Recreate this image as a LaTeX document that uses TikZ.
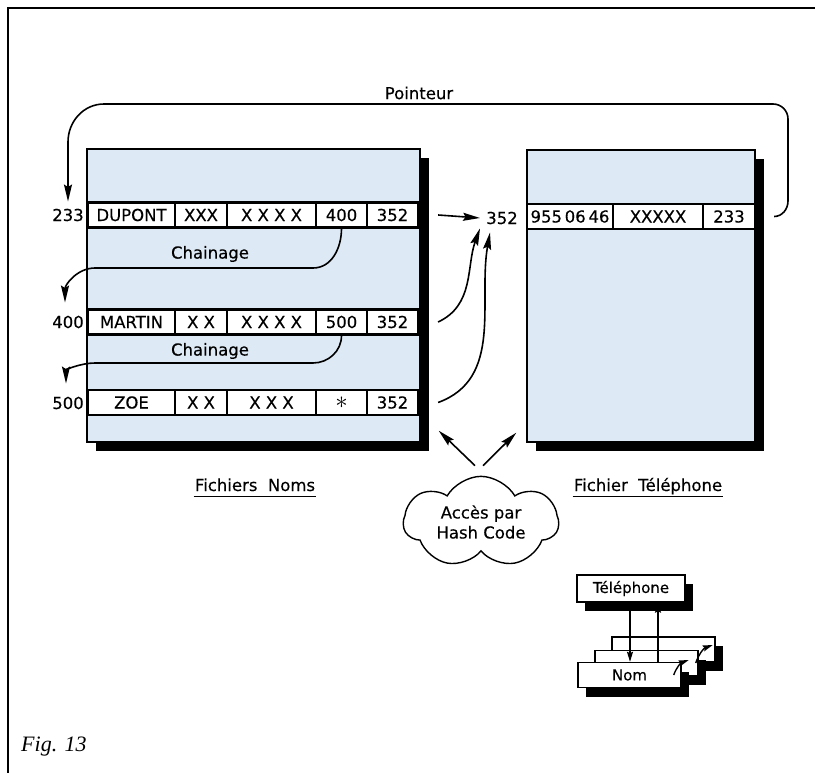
\documentclass[tikz,border=0pt]{standalone}
\usepackage{fontspec}
\setmainfont{DejaVu Sans}[FakeBold=0.3]
\newfontfamily\captionfont{Liberation Serif}
\usepackage{tikz}
\usetikzlibrary{arrows.meta,positioning,calc,shadows,shapes.symbols}

\definecolor{fileblue}{RGB}{221,233,244}

\begin{document}
\begin{tikzpicture}[
    x=1pt, y=1pt,
    font=\fontsize{16.5}{20}\selectfont,
    filebox/.style={draw,line width=1.4pt,fill=fileblue,inner sep=0pt,
                    drop shadow={shadow xshift=9pt,shadow yshift=-9pt,fill=black,opacity=1}},
    cell/.style={draw,line width=2.2pt,fill=white,inner sep=0pt,minimum height=25pt},
    addr/.style={inner sep=1pt},
    link/.style={-{Stealth[length=17pt,width=8pt,inset=2.5pt]},line width=1.6pt},
    caption/.style={anchor=base,inner sep=1pt,text depth=4pt},
    tinybox/.style={draw,line width=1.4pt,fill=white,inner sep=0pt,minimum height=25pt,
                    font=\fontsize{15}{18}\selectfont,
                    drop shadow={shadow xshift=8pt,shadow yshift=-9pt,fill=black,opacity=1}},
    tinylink/.style={-{Stealth[length=10pt,width=6pt,inset=1.5pt]},line width=1.4pt},
  ]
  \useasboundingbox (0,0) rectangle (815,-773);

  % --- frame ---
  \draw[line width=1.6pt] (8,-773) -- (8,-8) -- (815,-8);

  % --- the two files ---
  \node[filebox,minimum width=333pt,minimum height=293pt] (noms) at (253.5,-295.5) {};
  \node[filebox,minimum width=228pt,minimum height=292pt] (tel)  at (641,-296) {};

  % --- records of the names file ---
  \node[cell,minimum width=87pt] (dupont) at (131.5,-215) {DUPONT};
  \node[cell,minimum width=52pt] (d2)     at (201,-215)   {XXX};
  \node[cell,minimum width=89pt] (d3)     at (271.5,-215) {X X X X};
  \node[cell,minimum width=51pt] (d400)   at (341.5,-215) {400};
  \node[cell,minimum width=51pt] (d352)   at (392.5,-215) {352};

  \node[cell,minimum width=87pt] (martin) at (131.5,-322) {MARTIN};
  \node[cell,minimum width=52pt] (m2)     at (201,-322)   {X X};
  \node[cell,minimum width=89pt] (m3)     at (271.5,-322) {X X X X};
  \node[cell,minimum width=51pt] (m500)   at (341.5,-322) {500};
  \node[cell,minimum width=51pt] (m352)   at (392.5,-322) {352};

  \node[cell,minimum width=87pt] (zoe)    at (131.5,-402.5) {ZOE};
  \node[cell,minimum width=52pt] (z2)     at (201,-402.5)   {X X};
  \node[cell,minimum width=89pt] (z3)     at (271.5,-402.5) {X X X};
  \node[cell,minimum width=51pt] (zend)   at (341.5,-402.5) {\fontsize{26}{26}\selectfont$\ast$};
  \node[cell,minimum width=51pt] (z352)   at (392.5,-402.5) {352};

  % --- record of the telephone file ---
  \node[cell,minimum width=86pt] (p1)   at (570,-216.5) {955\,06\,46};
  \node[cell,minimum width=90pt] (p2)   at (658,-216.5) {XXXXX};
  \node[cell,minimum width=52pt] (p233) at (729,-216.5) {233};

  % --- addresses ---
  \node[addr] (a233) at (68,-215) {233};
  \node[addr] (a400) at (68,-322) {400};
  \node[addr] (a500) at (68,-403) {500};
  \node[addr] (h352) at (502,-218) {352};

  \node (ch1) at (210,-254) {Chainage};
  \node (ch2) at (210,-351) {Chainage};
  \node (ptr) at (419,-93)  {Pointeur};

  % --- pointer back to the names file ---
  \draw[link] ([xshift=18pt]p233.east) to[out=0,in=-90] (788,-201) -- (788,-119)
    to[out=90,in=0] (773,-104) -- (104,-104) to[out=180,in=90] (68,-142)
    -- ([yshift=6pt]a233.north);

  % --- chaining ---
  \draw[link] (d400.south) to[out=-90,in=0] (313,-268) -- (95,-268)
    to[out=180,in=90] ([yshift=12pt,xshift=-3pt]a400.north);
  \draw[link] (m500.south) to[out=-90,in=0] (313,-363) -- (95,-363)
    to[out=180,in=90] ([yshift=12pt,xshift=-2pt]a500.north);

  % --- links to the telephone record ---
  \draw[link] ([xshift=19pt]d352.east) -- ([xshift=-5pt]h352.west);
  \draw[link] ([xshift=19pt]m352.east) to[out=25,in=-110] ([xshift=-22pt,yshift=-3pt]h352.south);
  \draw[link] ([xshift=19pt]z352.east) to[out=20,in=-100] ([xshift=-12pt,yshift=-7pt]h352.south);

  % --- hash code access ---
  \node[cloud,draw,line width=1.4pt,cloud puffs=7,cloud puff arc=120,aspect=1.9,
        minimum width=155pt,minimum height=82pt,inner sep=0pt,align=center] (hash)
        at (481,-522) {Accès par\\Hash Code};
  \draw[link] ([xshift=-6pt,yshift=10pt]hash.north) -- ([xshift=18pt,yshift=12pt]noms.south east);
  \draw[link] ([xshift=2pt,yshift=10pt]hash.north) -- ([xshift=-10pt,yshift=10pt]tel.south west);

  % --- captions ---
  \node[caption] (fnoms) at (255,-491) {Fichiers\ \ Noms};
  \draw[line width=1.4pt] (fnoms.south west) -- (fnoms.south east);
  \node[caption] (ftel) at (648,-491) {Fichier\ \ Téléphone};
  \draw[line width=1.4pt] (ftel.south west) -- (ftel.south east);

  % --- small sketch ---
  \node[tinybox,minimum width=108pt,minimum height=27pt] (itel) at (631,-588.5) {Téléphone};
  \node[tinybox,minimum width=103pt] (inom3) at (663.5,-649.5) {};
  \node[tinybox,minimum width=103pt] (inom2) at (646.5,-663) {};
  \node[tinybox,minimum width=103pt] (inom)  at (629.5,-675) {Nom};
  \draw[tinylink] ([xshift=-1pt]itel.south) -- ([xshift=-1pt]itel.south |- inom.north);
  \draw[tinylink] ([xshift=28.5pt]inom.north) -- ([xshift=28.5pt]inom.north |- itel.south);
  \draw[tinylink] ([xshift=-8pt]inom.east) to[out=70,in=200] ([xshift=-10pt,yshift=3pt]inom2.east);
  \draw[tinylink] ([xshift=-3pt]inom2.east) to[out=70,in=200] ([xshift=-3pt,yshift=4.5pt]inom3.east);

  \node[anchor=base west,inner sep=0pt,font=\captionfont\itshape\fontsize{22}{24}\selectfont]
    (fig) at (21,-751) {Fig. 13};

\end{tikzpicture}
\end{document}
